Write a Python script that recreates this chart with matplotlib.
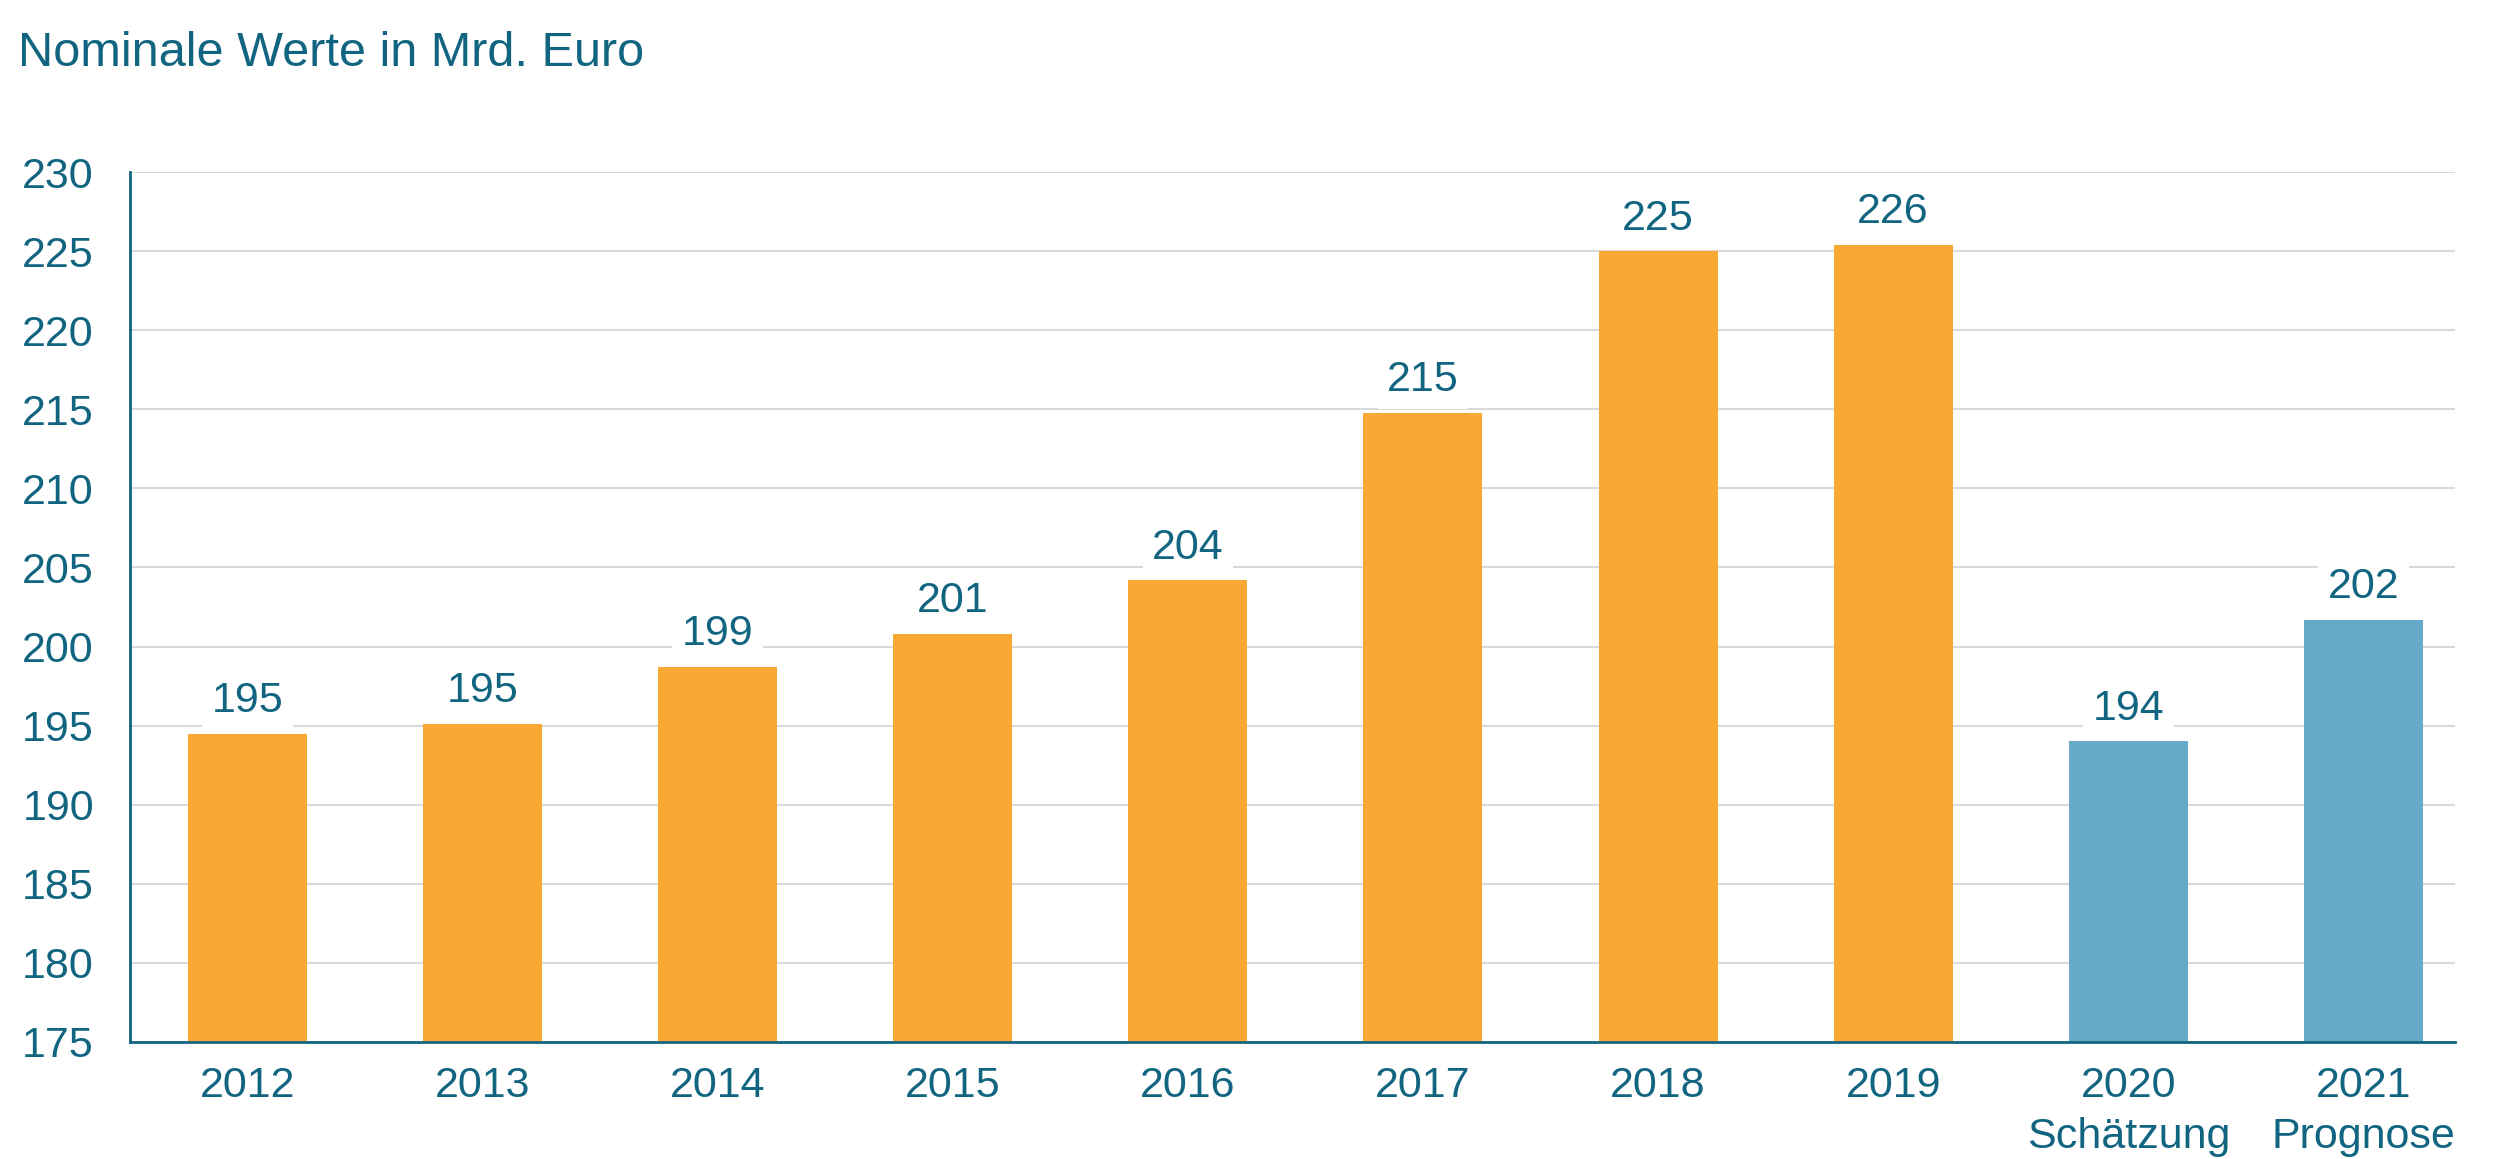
import matplotlib
matplotlib.use("Agg")
import matplotlib.pyplot as plt

years = ["2012", "2013", "2014", "2015", "2016", "2017", "2018", "2019", "2020\nSchätzung", "2021\nPrognose"]
values = [194.5, 195.1, 198.7, 200.8, 204.2, 214.8, 225.0, 225.4, 194.0, 201.7]
labels = ["195", "195", "199", "201", "204", "215", "225", "226", "194", "202"]
kinds = ["ist"] * 8 + ["prog"] * 2
yticks = list(range(175, 231, 5))

TEXT = "#126580"
ORANGE = "#F9A834"
BLUE = "#66AAC9"

plt.rcParams["font.family"] = ["Liberation Sans", "DejaVu Sans"]

fig = plt.figure(figsize=(25, 11.59), dpi=100)
ax = fig.add_axes([0.052, 0.101, 0.930, 0.7505])

colors = [ORANGE if k == "ist" else BLUE for k in kinds]
x = list(range(len(years)))
ax.bar(x, [v - 175 for v in values], bottom=175, width=0.506, color=colors, zorder=2)

for xi, v, lab in zip(x, values, labels):
    ax.annotate(lab, (xi, v), xytext=(0, 23.5), textcoords="offset points",
                ha="center", va="center", fontsize=31, color=TEXT, zorder=4,
                bbox=dict(boxstyle="square,pad=0.22", fc="white", ec="none"))

ax.set_ylim(175, 230)
ax.set_xlim(-0.5, 9.39)
ax.set_yticks(yticks)
ax.set_xticks(x)
ax.set_xticklabels(years)
ax.tick_params(axis="both", length=0, labelsize=31, colors=TEXT)
ax.tick_params(axis="y", pad=26)
ax.tick_params(axis="x", pad=17.5)
for t in ax.get_xticklabels():
    t.set_linespacing(1.36)

ax.grid(axis="y", color="#D9D9D9", linewidth=1.5, zorder=0)
ax.set_axisbelow(True)
for s in ["top", "right"]:
    ax.spines[s].set_visible(False)
for s in ["left", "bottom"]:
    ax.spines[s].set_color(TEXT)
    ax.spines[s].set_linewidth(2)
    ax.spines[s].set_zorder(3)

fig.text(0.007, 1 - 54 / 1159, "Nominale Werte in Mrd. Euro", fontsize=35,
         color=TEXT, ha="left", va="center")

fig.savefig("out.png", dpi=100, facecolor="white")
